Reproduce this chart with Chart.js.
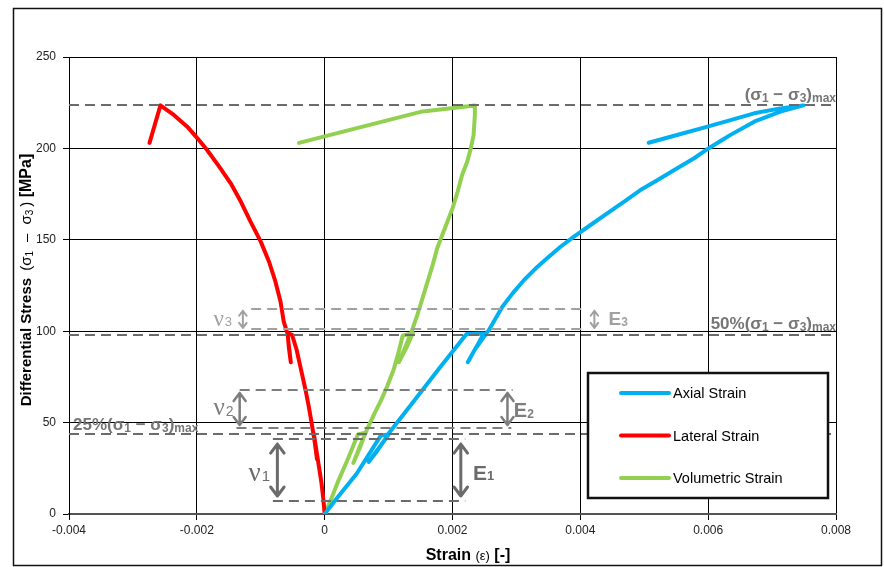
<!DOCTYPE html>
<html>
<head>
<meta charset="utf-8">
<script src="https://cdn.jsdelivr.net/npm/chart.js@4.4.1/dist/chart.umd.min.js"></script>
<style>
  html, body { margin: 0; padding: 0; background: #fff; }
  #wrap { width: 884px; height: 567px; }
</style>
</head>
<body>
<div id="wrap"><canvas id="chart" width="884" height="567"></canvas></div>
<script>
// Triaxial test: differential stress against axial, lateral and volumetric strain
const axialStrain = [0, 0.0002, 0.0005, 0.00088, 0.001, 0.0009, 0.0008, 0.00069, 0.0008, 0.00092, 0.00101, 0.0014, 0.0018, 0.00222, 0.00249, 0.0024, 0.00231, 0.00224, 0.00235, 0.00257, 0.00278, 0.00294, 0.00312, 0.00333, 0.00348, 0.00369, 0.0039, 0.00416, 0.00442, 0.00468, 0.00494, 0.00521, 0.00547, 0.00578, 0.00601, 0.0062, 0.00635, 0.00672, 0.00713, 0.00749, 0.00713, 0.00672, 0.00635, 0.00599, 0.00557, 0.00507];
const axialStress = [0, 9, 22, 43, 43.5, 38.5, 33.5, 28.5, 34, 39.5, 44.5, 62, 80, 98.5, 98.8, 93, 87.5, 83, 90, 100.7, 113.4, 120.7, 128, 135.3, 139.9, 146.2, 151.7, 158.1, 164.5, 170.8, 177.2, 182.7, 188.2, 194.6, 200.1, 204.2, 207.4, 214.6, 220.1, 223.5, 221.9, 219.2, 215.5, 211.9, 207.9, 203.1];

const lateralStrain = [0, -0.00002, -0.00005, -0.00009, -0.00013, -0.00017, -0.00014, -0.00012, -0.00015, -0.0002, -0.00025, -0.0003, -0.00037, -0.00044, -0.00051, -0.00058, -0.00056, -0.00053, -0.00056, -0.00058, -0.00064, -0.00069, -0.00077, -0.00087, -0.001, -0.00116, -0.00131, -0.00147, -0.00165, -0.00184, -0.00199, -0.00215, -0.00236, -0.00257, -0.00274];
const lateralStress = [0, 8, 17, 26, 35, 44, 37, 30, 38, 49, 59, 68, 79, 90, 98, 99, 91, 83, 92, 98.5, 105.2, 116.1, 127.1, 138, 149, 159.9, 170.8, 180.9, 190, 199.1, 205.5, 211.9, 218.3, 223.5, 203];

const volStrain = [0, 0.0001, 0.0002, 0.00035, 0.00052, 0.00064, 0.00056, 0.00045, 0.00055, 0.00066, 0.00078, 0.00088, 0.00098, 0.00108, 0.00116, 0.00122, 0.00138, 0.00128, 0.00116, 0.00127, 0.00137, 0.00145, 0.00153, 0.00161, 0.00169, 0.00176, 0.00184, 0.00192, 0.002, 0.00208, 0.00215, 0.00223, 0.00228, 0.00233, 0.00235, 0.00235, 0.0015, -0.0004];
const volStress = [0, 8, 17, 29, 43.5, 44.5, 37, 28, 37, 46, 55, 62, 70, 79, 89, 97.5, 99, 91, 83, 92, 100.7, 108.9, 118, 127.1, 136.2, 145.3, 152.6, 159.9, 167.2, 176.3, 185.4, 192.7, 199.1, 207.3, 218.3, 223.5, 220, 203];

const seriesNames = ['Axial Strain', 'Lateral Strain', 'Volumetric Strain'];

const xTickValues = [-0.004, -0.002, 0, 0.002, 0.004, 0.006, 0.008];
const xTickLabels = ['-0.004', '-0.002', '0', '0.002', '0.004', '0.006', '0.008'];
const yTickValues = [0, 50, 100, 150, 200, 250];
const yTickLabels = ['0', '50', '100', '150', '200', '250'];

// Reference stress levels (MPa)
const peakStress = 223.5;
const halfLevel = 97.7;
const quarterLevel = 43.8;
const band1 = [7.1, 41];     // nu1 / E1 interval
const band2 = [47, 67.8];    // nu2 / E2 interval
const band3 = [101, 112];    // nu3 / E3 interval

function pairs(xs, ys) { return xs.map((x, i) => ({ x: x, y: ys[i] })); }

const SANS = '"Liberation Sans", Arial, sans-serif';

// Draws a run of text pieces, each with its own font, vertical offset and trailing gap
function richText(ctx, parts, x, y, align) {
  let total = 0;
  parts.forEach(p => { ctx.font = p.font; p.w = ctx.measureText(p.t).width + (p.gap || 0); total += p.w; });
  let cx = align === 'right' ? x - total : align === 'center' ? x - total / 2 : x;
  ctx.textAlign = 'left';
  parts.forEach(p => {
    ctx.font = p.font;
    ctx.fillText(p.t, cx, y + (p.dy || 0));
    cx += p.w;
  });
}

function sigmaLabel(prefix, size) {
  const b = 'bold ' + size + 'px ' + SANS;
  const s = 'bold ' + Math.round(size * 0.68) + 'px ' + SANS;
  const parts = [];
  if (prefix) parts.push({ t: prefix, font: b });
  parts.push({ t: '(σ', font: b }, { t: '1', font: s, dy: 2 }, { t: ' − σ', font: b },
             { t: '3', font: s, dy: 2 }, { t: ')', font: b }, { t: 'max', font: s, dy: 2 });
  return parts;
}

function drawArrow(ctx, x, y0, y1, color, w, inset, head) {
  const top = Math.min(y0, y1) + inset, bot = Math.max(y0, y1) - inset;
  ctx.save();
  ctx.strokeStyle = color;
  ctx.lineWidth = w;
  ctx.lineCap = 'round';
  ctx.lineJoin = 'round';
  ctx.setLineDash([]);
  ctx.beginPath();
  ctx.moveTo(x, top); ctx.lineTo(x, bot);
  ctx.moveTo(x - head * 0.75, top + head); ctx.lineTo(x, top); ctx.lineTo(x + head * 0.75, top + head);
  ctx.moveTo(x - head * 0.75, bot - head); ctx.lineTo(x, bot); ctx.lineTo(x + head * 0.75, bot - head);
  ctx.stroke();
  ctx.restore();
}

const annotations = {
  id: 'stressMarks',
  afterDatasetsDraw(chart) {
    const ctx = chart.ctx;
    const sx = chart.scales.x, sy = chart.scales.y;
    const X = v => sx.getPixelForValue(v), Y = v => sy.getPixelForValue(v);
    const dark = '#6b6b6b', mid = '#7d7d7d', light = '#a0a0a0';

    // dashed reference levels
    const dashed = [
      [peakStress, -0.004, 0.008, dark],
      [halfLevel, -0.004, 0.008, dark],
      [quarterLevel, -0.004, 0.008, dark],
      [band3[1], -0.00115, 0.00408, light],
      [band3[0], -0.00115, 0.00408, light],
      [band2[1], -0.00133, 0.00294, mid],
      [band2[0], -0.00138, 0.00292, mid],
      [band1[1], -0.00081, 0.0022, dark],
      [band1[0], -0.00081, 0.0022, dark]
    ];
    ctx.save();
    ctx.lineWidth = 2;
    ctx.setLineDash([10, 6]);
    dashed.forEach(d => {
      ctx.strokeStyle = d[3];
      ctx.beginPath();
      ctx.moveTo(X(d[1]), Math.round(Y(d[0])));
      ctx.lineTo(X(d[2]), Math.round(Y(d[0])));
      ctx.stroke();
    });
    ctx.restore();

    // interval arrows
    drawArrow(ctx, X(-0.00074), Y(band1[1]), Y(band1[0]), dark, 3, 5, 9);
    drawArrow(ctx, X(0.00213), Y(band1[1]), Y(band1[0]), dark, 3, 5, 9);
    drawArrow(ctx, X(-0.00133), Y(band2[1]), Y(band2[0]), mid, 2.5, 3, 8);
    drawArrow(ctx, X(0.00286), Y(band2[1]), Y(band2[0]), mid, 2.5, 3, 8);
    drawArrow(ctx, X(-0.00128), Y(band3[1]), Y(band3[0]), light, 2, 1.5, 5);
    drawArrow(ctx, X(0.00422), Y(band3[1]), Y(band3[0]), light, 2, 1.5, 5);

    // interval labels
    ctx.save();
    ctx.textBaseline = 'middle';
    const nu = (x, y, d, size, color) => {
      ctx.fillStyle = color;
      richText(ctx, [{ t: 'ν', font: size + 'px "Liberation Serif", serif', gap: 1 },
                     { t: d, font: Math.round(size * 0.55) + 'px ' + SANS, dy: 3 }], X(x), Y(y), 'left');
    };
    const em = (x, y, d, size, color) => {
      ctx.fillStyle = color;
      richText(ctx, [{ t: 'E', font: 'bold ' + size + 'px ' + SANS },
                     { t: d, font: 'bold ' + Math.round(size * 0.62) + 'px ' + SANS, dy: 3 }], X(x), Y(y), 'left');
    };
    nu(-0.00119, 22, '1', 27, dark);
    nu(-0.00174, 57.5, '2', 25, mid);
    nu(-0.00174, 106.3, '3', 23, light);
    em(0.00232, 22, '1', 21, dark);
    em(0.00296, 56, '2', 20, mid);
    em(0.00444, 106.5, '3', 19, light);

    // level labels
    ctx.textBaseline = 'alphabetic';
    ctx.fillStyle = '#767676';
    richText(ctx, sigmaLabel('', 17), X(0.008), Y(peakStress) - 5, 'right');
    richText(ctx, sigmaLabel('50%', 17), X(0.008), Y(halfLevel) - 6, 'right');
    richText(ctx, sigmaLabel('25%', 17), X(-0.004) + 4, Y(quarterLevel) - 4, 'left');
    ctx.restore();
  },
  afterDraw(chart) {
    const ctx = chart.ctx;
    // legend box
    const bx = 588, by = 373, bw = 240, bh = 125;
    ctx.save();
    ctx.fillStyle = '#fff';
    ctx.fillRect(bx, by, bw, bh);
    ctx.lineWidth = 2.5;
    ctx.strokeStyle = '#111';
    ctx.strokeRect(bx, by, bw, bh);
    chart.data.datasets.forEach((ds, i) => {
      const yy = by + 20 + i * 42.5;
      ctx.strokeStyle = ds.borderColor;
      ctx.lineWidth = 4;
      ctx.lineCap = 'round';
      ctx.beginPath();
      ctx.moveTo(bx + 33, yy); ctx.lineTo(bx + 81, yy);
      ctx.stroke();
      ctx.fillStyle = '#000';
      ctx.font = '14.5px ' + SANS;
      ctx.textBaseline = 'middle';
      ctx.textAlign = 'left';
      ctx.fillText(ds.label, bx + 85, yy + 1);
    });

    // axis titles
    ctx.fillStyle = '#000';
    ctx.textBaseline = 'middle';
    ctx.save();
    ctx.translate(27, 280);
    ctx.rotate(-Math.PI / 2);
    richText(ctx, [
      { t: 'Differential Stress ', font: 'bold 15px ' + SANS, gap: 3 },
      { t: '(σ', font: '15px ' + SANS },
      { t: '1', font: '10px ' + SANS, dy: 3, gap: 9 },
      { t: '–', font: '15px ' + SANS, gap: 9 },
      { t: 'σ', font: '15px ' + SANS },
      { t: '3', font: '10px ' + SANS, dy: 3, gap: 3 },
      { t: ')', font: '15px ' + SANS },
      { t: ' [MPa]', font: 'bold 16px ' + SANS }
    ], 0, 0, 'center');
    ctx.restore();
    richText(ctx, [
      { t: 'Strain ', font: 'bold 16px ' + SANS },
      { t: '(ε)', font: '13px ' + SANS },
      { t: ' [-]', font: 'bold 16px ' + SANS }
    ], 468, 556, 'center');

    // outer frame
    ctx.lineWidth = 1.5;
    ctx.strokeStyle = '#111';
    ctx.strokeRect(13.5, 8.5, 868, 557);
    ctx.restore();
  }
};

const lineStyle = { showLine: true, pointRadius: 0, borderWidth: 4, fill: false, tension: 0,
                    borderCapStyle: 'round', borderJoinStyle: 'round' };

new Chart(document.getElementById('chart'), {
  type: 'scatter',
  data: {
    datasets: [
      Object.assign({ label: seriesNames[0], data: pairs(axialStrain, axialStress), borderColor: '#00b0f0', backgroundColor: '#00b0f0' }, lineStyle),
      Object.assign({ label: seriesNames[1], data: pairs(lateralStrain, lateralStress), borderColor: '#ff0000', backgroundColor: '#ff0000' }, lineStyle),
      Object.assign({ label: seriesNames[2], data: pairs(volStrain, volStress), borderColor: '#92d050', backgroundColor: '#92d050' }, lineStyle)
    ]
  },
  options: {
    responsive: false,
    animation: false,
    devicePixelRatio: 1,
    layout: { padding: { left: 0, top: 57, right: 48, bottom: 0 } },
    plugins: { legend: { display: false }, tooltip: { enabled: false } },
    scales: {
      x: {
        type: 'linear', min: -0.004, max: 0.008,
        afterBuildTicks: s => { s.ticks = xTickValues.map(v => ({ value: v })); },
        afterFit: s => { s.height = 53; },
        grid: { color: '#000', lineWidth: 1, tickLength: 6, tickColor: '#000' },
        border: { display: true, color: '#555', width: 2 },
        ticks: { callback: (v, i) => xTickLabels[i], font: { family: SANS, size: 12 }, color: '#222', padding: 3, maxRotation: 0 }
      },
      y: {
        type: 'linear', min: 0, max: 250,
        afterBuildTicks: s => { s.ticks = yTickValues.map(v => ({ value: v })); },
        afterFit: s => { s.width = 69; },
        grid: { color: '#000', lineWidth: 1, tickLength: 6, tickColor: '#000' },
        border: { display: true, color: '#000', width: 1 },
        ticks: { callback: (v, i) => yTickLabels[i], font: { family: SANS, size: 12 }, color: '#222', padding: 7 }
      }
    }
  },
  plugins: [annotations]
});
</script>
</body>
</html>
